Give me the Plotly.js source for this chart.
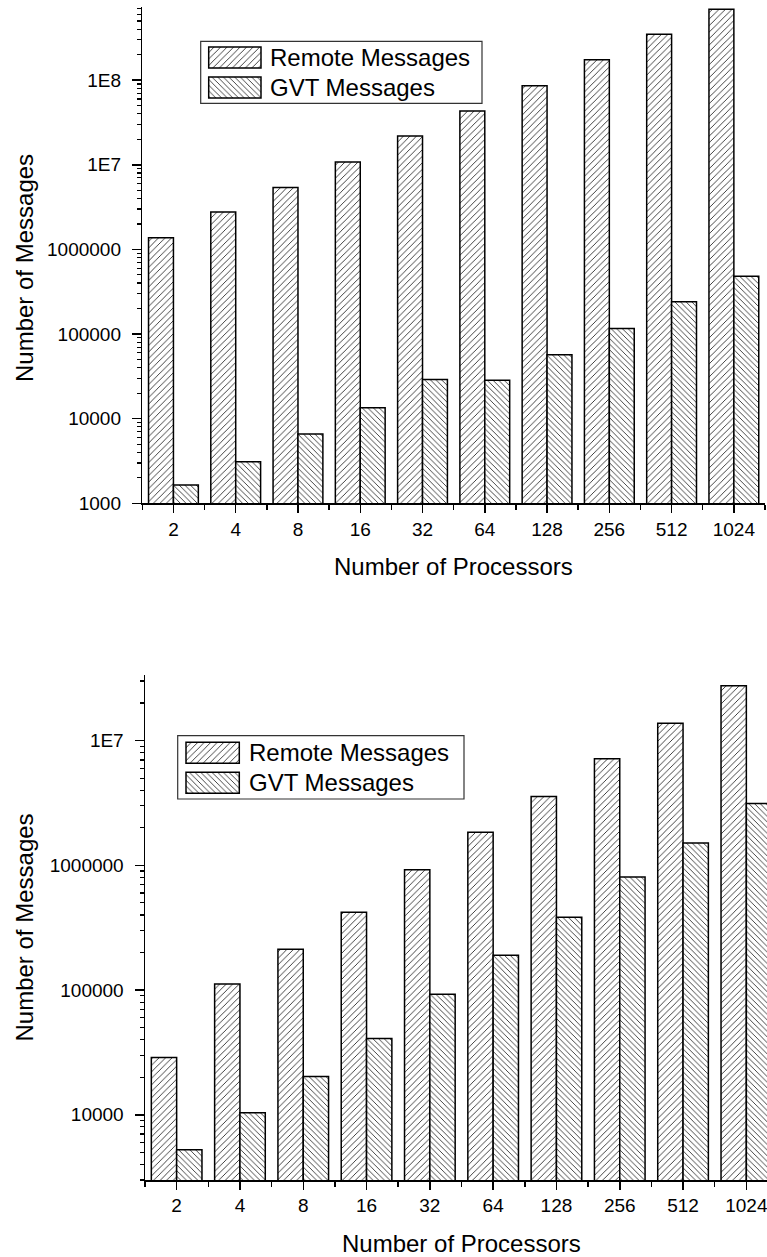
<!DOCTYPE html>
<html>
<head>
<meta charset="utf-8">
<script src="https://cdn.plot.ly/plotly-3.0.1.min.js"></script>
<style>
html, body { margin: 0; padding: 0; overflow: hidden; background: #fff; }
#chart { width: 800px; height: 1257px; }
</style>
</head>
<body>
<div id="chart"></div>
<script>
// ---- data ----
var processors = ['2', '4', '8', '16', '32', '64', '128', '256', '512', '1024'];
var seriesNames = ['Remote Messages', 'GVT Messages'];
var remoteTop = [1.37e6, 2.76e6, 5.4e6, 1.08e7, 2.19e7, 4.33e7, 8.6e7, 1.74e8, 3.48e8, 6.87e8];
var gvtTop = [1.64e3, 3.1e3, 6.6e3, 1.35e4, 2.9e4, 2.85e4, 5.7e4, 1.16e5, 2.4e5, 4.8e5];
var remoteBottom = [2.88e4, 1.12e5, 2.12e5, 4.2e5, 9.2e5, 1.84e6, 3.56e6, 7.14e6, 1.38e7, 2.75e7];
var gvtBottom = [5.25e3, 1.04e4, 2.03e4, 4.08e4, 9.25e4, 1.9e5, 3.84e5, 8.07e5, 1.51e6, 3.13e6];
var yTickValsTop = [1000, 10000, 100000, 1000000, 10000000, 100000000];
var yTickTextTop = ['1000', '10000', '100000', '1000000', '1E7', '1E8'];
var yTickValsBottom = [10000, 100000, 1000000, 10000000];
var yTickTextBottom = ['10000', '100000', '1000000', '1E7'];

// ---- geometry helpers (pixels -> paper) ----
var W = 800, H = 1257;
function px(x) { return x / W; }
function py(y) { return 1 - y / H; }

var FONT = '"Liberation Sans", Arial, Helvetica, sans-serif';
var xIdx = processors.map(function (_, i) { return i; });
var patterns = [
  { shape: '/', size: 4.6, solidity: 0.16 },
  { shape: '\\', size: 4, solidity: 0.18 }
];

function markerFor(k) {
  return {
    color: 'white',
    line: { color: 'black', width: 1.5 },
    pattern: { shape: patterns[k].shape, fgcolor: 'black', bgcolor: 'white',
               size: patterns[k].size, solidity: patterns[k].solidity, fillmode: 'replace' }
  };
}

function barTrace(vals, k, xa, ya) {
  return {
    type: 'bar', x: xIdx, y: vals, name: seriesNames[k], xaxis: xa, yaxis: ya,
    showlegend: false, marker: markerFor(k), hoverinfo: 'skip'
  };
}

// legend patches drawn as small horizontal bars on their own hidden axes
function legendPatch(k, xa, ya) {
  return {
    type: 'bar', orientation: 'h', x: [1], y: [k], base: 0, width: 0.7, offset: -0.35,
    name: seriesNames[k], xaxis: xa, yaxis: ya, showlegend: false,
    marker: markerFor(k), hoverinfo: 'skip'
  };
}

var traces = [
  barTrace(remoteTop, 0, 'x', 'y'),
  barTrace(gvtTop, 1, 'x', 'y'),
  barTrace(remoteBottom, 0, 'x2', 'y2'),
  barTrace(gvtBottom, 1, 'x2', 'y2'),
  legendPatch(0, 'x3', 'y3'), legendPatch(1, 'x3', 'y3'),
  legendPatch(0, 'x4', 'y4'), legendPatch(1, 'x4', 'y4')
];

function xAxis(domain, anchor) {
  return {
    domain: domain, anchor: anchor, range: [-0.5, processors.length - 0.5],
    tickmode: 'array', tickvals: xIdx, ticktext: processors,
    ticks: 'outside', ticklen: 8, tickwidth: 1.5, tickcolor: 'black',
    minor: { tickmode: 'linear', tick0: 0.5, dtick: 1, ticks: 'outside', ticklen: 5, tickwidth: 1.5, tickcolor: 'black', showgrid: false },
    showline: true, linecolor: 'black', linewidth: 1.5, mirror: false,
    showgrid: false, zeroline: false, fixedrange: true,
    tickfont: { family: FONT, size: 19, color: 'black' }
  };
}
function yAxis(domain, anchor, range, tv, tt) {
  return {
    domain: domain, anchor: anchor, type: 'log', range: range,
    tickmode: 'array', tickvals: tv, ticktext: tt,
    ticks: 'outside', ticklen: 9, tickwidth: 1.5, tickcolor: 'black',
    minor: { dtick: 'D1', ticks: 'outside', ticklen: 4, tickwidth: 1.2, tickcolor: 'black', showgrid: false },
    showline: true, linecolor: 'black', linewidth: 1.5, mirror: false,
    showgrid: false, zeroline: false, fixedrange: true, ticklabelstandoff: 7,
    tickfont: { family: FONT, size: 19, color: 'black' }
  };
}
function hiddenAxes(x0, x1, yTop, pitch, anchor) {
  var pad = 3, w = x1 - x0;
  return {
    x: { domain: [px(x0 - pad), px(x1 + pad)], range: [-pad / w, 1 + pad / w], anchor: anchor.y,
         visible: false, fixedrange: true },
    y: { domain: [py(yTop + 2 * pitch), py(yTop)], range: [1.5, -0.5], anchor: anchor.x,
         visible: false, fixedrange: true }
  };
}

var legAxTop = hiddenAxes(208.7, 261, 42.5, 30, { x: 'x3', y: 'y3' });
var legAxBot = hiddenAxes(186, 239.3, 737.7, 30, { x: 'x4', y: 'y4' });

function legendBox(box) {
  return {
    type: 'rect', xref: 'paper', yref: 'paper',
    x0: px(box[0]), x1: px(box[1]), y0: py(box[3]), y1: py(box[2]),
    line: { color: '#333', width: 1.2 }, fillcolor: 'white', layer: 'below'
  };
}
function legendText(k, x, yc) {
  return {
    text: seriesNames[k], xref: 'paper', yref: 'paper',
    x: px(x), y: py(yc), xanchor: 'left', yanchor: 'middle',
    showarrow: false, font: { family: FONT, size: 24, color: 'black' }
  };
}

function title(text, x, y, angle) {
  return {
    text: text, xref: 'paper', yref: 'paper', x: px(x), y: py(y),
    xanchor: 'center', yanchor: 'middle', textangle: angle || 0, showarrow: false,
    font: { family: FONT, size: 24, color: 'black' }
  };
}

var layout = {
  width: W, height: H,
  margin: { l: 0, r: 0, t: 0, b: 0 },
  paper_bgcolor: 'white', plot_bgcolor: 'rgba(0,0,0,0)',
  barmode: 'group', bargap: 0.2, bargroupgap: 0,
  showlegend: false,
  font: { family: FONT, color: 'black' },
  xaxis: xAxis([px(142.3), px(765)], 'y'),
  yaxis: yAxis([py(503.3), py(7)], 'x', [3, 8.864], yTickValsTop, yTickTextTop),
  xaxis2: xAxis([px(145), px(778)], 'y2'),
  yaxis2: yAxis([py(1180), py(675)], 'x2', [Math.log10(3000), 7.526], yTickValsBottom, yTickTextBottom),
  xaxis3: legAxTop.x, yaxis3: legAxTop.y,
  xaxis4: legAxBot.x, yaxis4: legAxBot.y,
  shapes: [legendBox([200.7, 482, 41.3, 103.3]), legendBox([177.7, 464, 735.7, 799])],
  annotations: [
    legendText(0, 268, 57.5), legendText(1, 268, 87.5),
    legendText(0, 247, 752.7), legendText(1, 247, 782.7),
    title('Number of Messages', 24, 268, -90),
    title('Number of Processors', 453.6, 566),
    title('Number of Messages', 24, 927.5, -90),
    title('Number of Processors', 461.5, 1243)
  ]
};

Plotly.newPlot('chart', traces, layout, { displayModeBar: false, staticPlot: true });
</script>
</body>
</html>
